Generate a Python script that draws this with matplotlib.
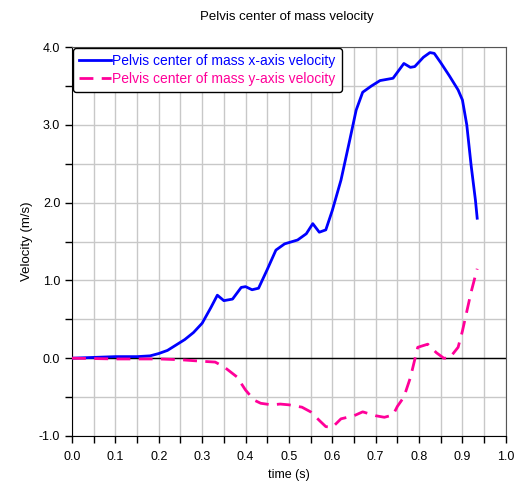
import matplotlib
matplotlib.use('Agg')
import matplotlib.pyplot as plt
from matplotlib.ticker import MultipleLocator, FormatStrFormatter

plt.rcParams['font.family'] = ['Liberation Sans', 'DejaVu Sans']

# x-axis velocity (blue)
tx = [0.0, 0.05, 0.1, 0.15, 0.18, 0.2, 0.22, 0.24, 0.26, 0.28, 0.3, 0.32, 0.335, 0.35,
      0.37, 0.39, 0.4, 0.415, 0.43, 0.45, 0.47, 0.49, 0.52, 0.54, 0.555, 0.57,
      0.585, 0.6, 0.62, 0.64, 0.655, 0.67, 0.69, 0.71, 0.74, 0.765, 0.78, 0.79,
      0.81, 0.825, 0.835, 0.85, 0.87, 0.89, 0.9, 0.91, 0.92, 0.93, 0.934]
vx = [0.0, 0.01, 0.02, 0.02, 0.03, 0.06, 0.1, 0.17, 0.24, 0.33, 0.45, 0.65, 0.81, 0.74,
      0.76, 0.91, 0.92, 0.88, 0.9, 1.14, 1.39, 1.47, 1.52, 1.6, 1.73, 1.62,
      1.65, 1.9, 2.29, 2.8, 3.19, 3.42, 3.5, 3.57, 3.6, 3.79, 3.74, 3.75,
      3.87, 3.93, 3.92, 3.8, 3.63, 3.45, 3.32, 3.0, 2.48, 2.03, 1.8]

# y-axis velocity (pink, dashed)
ty = [0.0, 0.1, 0.2, 0.25, 0.3, 0.33, 0.35, 0.38, 0.4, 0.42, 0.435, 0.46, 0.48,
      0.5, 0.53, 0.55, 0.57, 0.585, 0.6, 0.62, 0.65, 0.67, 0.7, 0.72, 0.74,
      0.75, 0.765, 0.78, 0.797, 0.82, 0.84, 0.857, 0.87, 0.89, 0.9, 0.91,
      0.92, 0.934]
vy = [0.0, -0.01, -0.01, -0.02, -0.04, -0.05, -0.11, -0.24, -0.41, -0.54, -0.58,
      -0.6, -0.59, -0.6, -0.63, -0.69, -0.8, -0.88, -0.89, -0.78, -0.74, -0.69,
      -0.74, -0.76, -0.73, -0.62, -0.5, -0.25, 0.14, 0.18, 0.07, 0.0, 0.0, 0.14,
      0.35, 0.6, 0.85, 1.15]

fig = plt.figure(figsize=(5.22, 4.86), dpi=100)
ax = fig.add_axes([0.138, 0.103, 0.831, 0.800])

ax.plot(tx, vx, color='#0000ff', lw=2, label='Pelvis center of mass x-axis velocity', zorder=3)
ax.plot(ty, vy, color='#ff0099', lw=2, ls=(0, (5, 3)),
        label='Pelvis center of mass y-axis velocity', zorder=3)
ax.axhline(0, color='black', lw=1, zorder=2)

ax.set_xlim(0, 1.0)
ax.set_ylim(-1.0, 4.0)
ax.xaxis.set_major_locator(MultipleLocator(0.1))
ax.xaxis.set_minor_locator(MultipleLocator(0.05))
ax.yaxis.set_major_locator(MultipleLocator(1.0))
ax.yaxis.set_minor_locator(MultipleLocator(0.5))
ax.xaxis.set_major_formatter(FormatStrFormatter('%.1f'))
ax.yaxis.set_major_formatter(FormatStrFormatter('%.1f'))
ax.grid(True, which='both', color='#c8c8c8', lw=1, zorder=0)
ax.tick_params(which='both', direction='out', length=5, width=1, labelsize=9, colors='black')
ax.tick_params(axis='x', pad=6)

for s in ['top', 'right']:
    ax.spines[s].set_color('#555555')
for s in ['left', 'bottom']:
    ax.spines[s].set_color('black')

ax.set_xlabel('time (s)', fontsize=9, labelpad=4)
ax.set_ylabel('Velocity (m/s)', fontsize=9.5, labelpad=4)
fig.text(0.55, 0.965, 'Pelvis center of mass velocity', ha='center', va='center', fontsize=9.5)

leg = ax.legend(loc='upper left', fontsize=10, handlelength=2.3, handletextpad=0.1,
                borderaxespad=0.05, frameon=True, fancybox=True, framealpha=1,
                labelspacing=0.25, borderpad=0.45)
leg.get_frame().set_edgecolor('black')
leg.get_frame().set_linewidth(1)
for txt, c in zip(leg.get_texts(), ['#0000ff', '#ff0099']):
    txt.set_color(c)

fig.savefig('out.png', dpi=100)
